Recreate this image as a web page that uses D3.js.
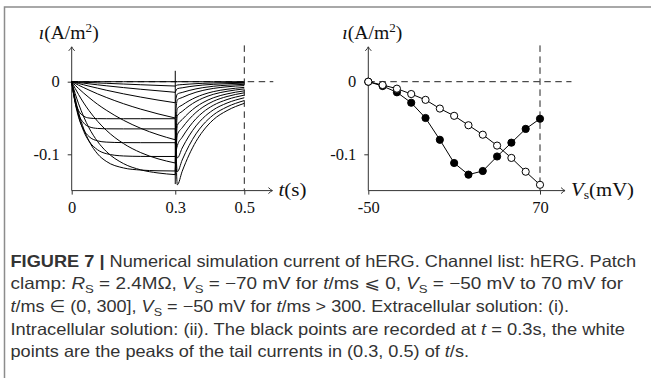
<!DOCTYPE html>
<html lang="en">
<head>
<meta charset="UTF-8">
<title>hERG numerical simulation current</title>
<script src="https://cdn.jsdelivr.net/npm/d3@7"></script>
<style>
  body { margin: 0; background: #fff; }
  .serif text, text.serif { font-family: "Liberation Serif", "DejaVu Serif", serif; fill: #111; }
  .caption { font-family: "Liberation Sans", "DejaVu Sans", sans-serif; fill: #333; font-size: 16.5px; }
</style>
</head>
<body>
<svg id="chart" width="651" height="378"></svg>
<script>
// step voltages (mV)
const voltages = [-50, -40, -30, -20, -10, 0, 10, 20, 30, 40, 50, 60, 70];
// black points: current at t = 0.3 s
const currentAt03 = [0, -0.006, -0.0146, -0.029, -0.050, -0.080, -0.112, -0.128, -0.123, -0.103, -0.084, -0.065, -0.051];
// white points: peak of tail current in (0.3, 0.5)
const tailPeak = [0, -0.0046, -0.0096, -0.017, -0.025, -0.037, -0.047, -0.060, -0.073, -0.088, -0.105, -0.124, -0.142];

// traces
const actTimes = [0, 0.005, 0.01, 0.02, 0.035, 0.05, 0.075, 0.1, 0.15, 0.2, 0.25, 0.3];
const actCurrents = [
  [0, 0, 0, 0, 0, 0, 0, 0, 0, 0, 0, 0],
  [0, -0.0001, -0.0002, -0.0005, -0.0008, -0.0011, -0.0017, -0.0022, -0.0032, -0.0042, -0.0051, -0.006],
  [0, -0.0003, -0.0006, -0.0012, -0.002, -0.0029, -0.0043, -0.0056, -0.0081, -0.0104, -0.0125, -0.0146],
  [0, -0.0006, -0.0013, -0.0025, -0.0043, -0.0061, -0.0089, -0.0117, -0.0167, -0.0212, -0.0253, -0.029],
  [0, -0.0012, -0.0024, -0.0048, -0.0082, -0.0115, -0.0168, -0.0216, -0.0303, -0.0378, -0.0443, -0.05],
  [0, -0.0024, -0.0048, -0.0094, -0.0158, -0.0218, -0.0311, -0.0392, -0.0531, -0.0642, -0.073, -0.08],
  [0, -0.0047, -0.0092, -0.0178, -0.0294, -0.0397, -0.0545, -0.0668, -0.0852, -0.0977, -0.1062, -0.112],
  [0, -0.0084, -0.0163, -0.0305, -0.0486, -0.0635, -0.0824, -0.096, -0.1128, -0.1214, -0.1257, -0.128],
  [0, -0.0118, -0.0228, -0.0425, -0.0652, -0.0815, -0.0995, -0.1097, -0.1188, -0.1217, -0.1227, -0.123],
  [0, -0.0142, -0.0265, -0.0472, -0.0685, -0.0818, -0.0938, -0.0991, -0.1023, -0.1029, -0.103, -0.103],
  [0, -0.0158, -0.0290, -0.0490, -0.0665, -0.0755, -0.0815, -0.0832, -0.0839, -0.084, -0.084, -0.084],
  [0, -0.0160, -0.0285, -0.0450, -0.0570, -0.0620, -0.0644, -0.0649, -0.065, -0.065, -0.065, -0.065],
  [0, -0.0155, -0.0265, -0.0398, -0.0475, -0.0500, -0.0509, -0.051, -0.051, -0.051, -0.051, -0.051]
];
const tailTimes = [0.3, 0.306, 0.32, 0.34, 0.36, 0.38, 0.41, 0.45, 0.5];
const tailCurrents = [
  [0, 0, 0, 0, 0, 0, 0, 0, 0],
  [-0.006, -0.0046, -0.004, -0.0033, -0.0027, -0.0022, -0.0017, -0.0013, -0.001],
  [-0.0146, -0.0096, -0.0084, -0.0068, -0.0056, -0.0046, -0.0036, -0.0027, -0.002],
  [-0.029, -0.017, -0.0148, -0.0121, -0.0099, -0.0082, -0.0063, -0.0048, -0.0036],
  [-0.05, -0.025, -0.0218, -0.0178, -0.0145, -0.012, -0.0093, -0.007, -0.0053],
  [-0.08, -0.037, -0.0322, -0.0263, -0.0215, -0.0178, -0.0137, -0.0104, -0.0078],
  [-0.112, -0.047, -0.0409, -0.0334, -0.0273, -0.0226, -0.0174, -0.0132, -0.0099],
  [-0.128, -0.06, -0.0522, -0.0426, -0.0348, -0.0288, -0.0222, -0.0168, -0.0126],
  [-0.123, -0.073, -0.0635, -0.0518, -0.0423, -0.035, -0.027, -0.0204, -0.0153],
  [-0.103, -0.088, -0.0766, -0.0625, -0.051, -0.0422, -0.0326, -0.0246, -0.0185],
  [-0.084, -0.105, -0.0914, -0.0746, -0.0609, -0.0504, -0.0389, -0.0294, -0.0221],
  [-0.065, -0.124, -0.1079, -0.088, -0.0719, -0.0595, -0.0459, -0.0347, -0.026],
  [-0.051, -0.142, -0.1235, -0.1008, -0.0824, -0.0682, -0.0525, -0.0398, -0.0298]
];
// switching transient at t = 0.3
const transient = [0.015, -0.141];

// ticks
const yTicks = [0, -0.1];
const yTickLabels = ["0", "-0.1"];
const tTicks = [0, 0.3, 0.5];
const tTickLabels = ["0", "0.3", "0.5"];
const vTicks = [-50, 70];
const vTickLabels = ["-50", "70"];

const svg = d3.select("#chart");

//scales shared by both panels
const y = d3.scaleLinear().domain([-0.1, 0]).range([154.3, 81.7]);
const xL = d3.scaleLinear().domain([0, 0.5]).range([71.7, 244.3]);
const xR = d3.scaleLinear().domain([-50, 70]).range([368.3, 540]);

//frame round the figure
svg.append("path")
  .attr("d", "M4.5,378V7H651")
  .attr("fill", "none")
  .attr("stroke", "#8c8c8c")
  .attr("stroke-width", 1.5);

function panel(x, xTicks, xTickLabels, opts) {
  const g = svg.append("g").attr("class", "serif");
  const x0 = x(x.domain()[0]);
  const axisY = y(opts.yBottom);
  //dashed guides
  g.append("line")
    .attr("x1", x0).attr("x2", x(opts.dashEnd))
    .attr("y1", y(0)).attr("y2", y(0))
    .attr("stroke", "#222").attr("stroke-dasharray", "6.5,4.5");
  g.append("line")
    .attr("x1", x(opts.dashX)).attr("x2", x(opts.dashX))
    .attr("y1", y(opts.dashTop)).attr("y2", axisY)
    .attr("stroke", "#222").attr("stroke-dasharray", "6.5,4.5");
  //y ticks
  const ya = g.append("g")
    .attr("transform", `translate(${x0},0)`)
    .call(d3.axisLeft(y).tickValues(yTicks).tickSize(4).tickPadding(8)
      .tickFormat((d, i) => yTickLabels[i]));
  ya.select(".domain").remove();
  //x ticks
  const xa = g.append("g")
    .attr("transform", `translate(0,${axisY})`)
    .call(d3.axisBottom(x).tickValues(xTicks).tickSize(4).tickPadding(7)
      .tickFormat((d, i) => xTickLabels[i]));
  xa.select(".domain").remove();
  [ya, xa].forEach(a => {
    a.attr("font-family", null).attr("font-size", 16.5);
    a.selectAll("line").attr("stroke", "#333");
  });
  //axis lines with arrow heads
  const xEnd = x(opts.xArrow), yEnd = y(opts.yTop);
  g.append("path")
    .attr("d", `M${x0},${axisY}H${xEnd}M${x0},${axisY}V${yEnd}`)
    .attr("fill", "none").attr("stroke", "#333");
  g.append("path")
    .attr("d", `M${xEnd - 4},${axisY - 3}Q${xEnd - 1.5},${axisY - 0.6} ${xEnd},${axisY}Q${xEnd - 1.5},${axisY + 0.6} ${xEnd - 4},${axisY + 3}` +
               `M${x0 - 3},${yEnd + 4}Q${x0 - 0.6},${yEnd + 1.5} ${x0},${yEnd}Q${x0 + 0.6},${yEnd + 1.5} ${x0 + 3},${yEnd + 4}`)
    .attr("fill", "none").attr("stroke", "#333");
  //y title
  const yt = g.append("text")
    .attr("x", x0 + opts.titleShift).attr("y", 39)
    .attr("text-anchor", "middle")
    .attr("font-size", 18)
    .attr("textLength", 60)
    .attr("lengthAdjust", "spacingAndGlyphs");
  yt.append("tspan").attr("font-style", "italic").text("ı");
  yt.append("tspan").text("(A/m");
  yt.append("tspan").attr("font-size", 12).attr("dy", -7).text("2");
  yt.append("tspan").attr("dy", 7).text(")");
  //x title
  const xt = g.append("text")
    .attr("x", xEnd + 6).attr("y", axisY + 5.5)
    .attr("font-size", 18)
    .attr("textLength", opts.xTitleWidth)
    .attr("lengthAdjust", "spacingAndGlyphs");
  opts.xTitle(xt);
  return g;
}

panel(xL, tTicks, tTickLabels, {
  yBottom: -0.15, yTop: 0.048, xArrow: 0.5815, dashEnd: 0.584, dashX: 0.5, dashTop: 0.05,
  titleShift: -3, xTitleWidth: 28,
  xTitle: t => {
    t.append("tspan").attr("font-style", "italic").text("t");
    t.append("tspan").text("(s)");
  }
});
panel(xR, vTicks, vTickLabels, {
  yBottom: -0.15, yTop: 0.048, xArrow: 87.5, dashEnd: 92, dashX: 70, dashTop: 0.05,
  titleShift: 4, xTitleWidth: 63,
  xTitle: t => {
    t.append("tspan").attr("font-style", "italic").text("V");
    t.append("tspan").attr("font-size", 12).attr("dy", 3).text("s");
    t.append("tspan").attr("dy", -3).text("(mV)");
  }
});

//left panel traces
const trace = d3.line().x(d => xL(d[0])).y(d => y(d[1])).curve(d3.curveMonotoneX);
const traces = svg.append("g").attr("fill", "none").attr("stroke", "#000").attr("stroke-width", 1);
voltages.forEach((v, i) => {
  traces.append("path").attr("d", trace(actTimes.map((t, j) => [t, actCurrents[i][j]])));
  traces.append("path").attr("d", trace(tailTimes.map((t, j) => [t, tailCurrents[i][j]])));
});
traces.append("line")
  .attr("x1", xL(0.3)).attr("x2", xL(0.3))
  .attr("y1", y(transient[0])).attr("y2", y(transient[1]));

//right panel I-V curves
const iv = d3.line().x(d => xR(d[0])).y(d => y(d[1]));
const blackPts = voltages.map((v, i) => [v, currentAt03[i]]);
const whitePts = voltages.map((v, i) => [v, tailPeak[i]]);
const right = svg.append("g");
right.append("path").attr("d", iv(blackPts)).attr("fill", "none").attr("stroke", "#000");
right.append("path").attr("d", iv(whitePts)).attr("fill", "none").attr("stroke", "#000");
right.selectAll(".black").data(blackPts).enter().append("circle")
  .attr("class", "black")
  .attr("cx", d => xR(d[0])).attr("cy", d => y(d[1])).attr("r", 3.6)
  .attr("fill", "#000").attr("stroke", "#000");
right.selectAll(".white").data(whitePts).enter().append("circle")
  .attr("class", "white")
  .attr("cx", d => xR(d[0])).attr("cy", d => y(d[1])).attr("r", 3.6)
  .attr("fill", "#fff").attr("stroke", "#000");

//caption
const captionLines = [
  [["FIGURE 7 | ", "b"], ["Numerical simulation current of hERG. Channel list: hERG. Patch"]],
  [["clamp: "], ["R", "i"], ["S", "sub"], [" = 2.4MΩ, "], ["V", "i"], ["S", "sub"], [" = −70 mV for "], ["t", "i"], ["/ms ⩽ 0, "], ["V", "i"], ["S", "sub"], [" = −50 mV to 70 mV for"]],
  [["t", "i"], ["/ms ∈ (0, 300], "], ["V", "i"], ["S", "sub"], [" = −50 mV for "], ["t", "i"], ["/ms > 300. Extracellular solution: (i)."]],
  [["Intracellular solution: (ii). The black points are recorded at "], ["t", "i"], [" = 0.3s, the white"]],
  [["points are the peaks of the tail currents in (0.3, 0.5) of "], ["t", "i"], ["/s."]]
];
const captionEnds = [636, 623, 569, 625, 469];
const captionTop = 266.5, captionStep = 22.7, captionLeft = 10.5;

captionLines.forEach((segs, i) => {
  const t = svg.append("text")
    .attr("class", "caption")
    .attr("x", captionLeft)
    .attr("y", captionTop + i * captionStep)
    .attr("textLength", captionEnds[i] - captionLeft)
    .attr("lengthAdjust", "spacingAndGlyphs");
  let shifted = false;
  segs.forEach(([txt, st]) => {
    const s = t.append("tspan").text(txt);
    if (st === "b") s.attr("font-weight", "bold");
    if (st === "i") s.attr("font-style", "italic");
    if (st === "sub") { s.attr("font-size", 11.5).attr("dy", 4); shifted = true; }
    else if (shifted) { s.attr("dy", -4); shifted = false; }
  });
});
</script>
</body>
</html>
